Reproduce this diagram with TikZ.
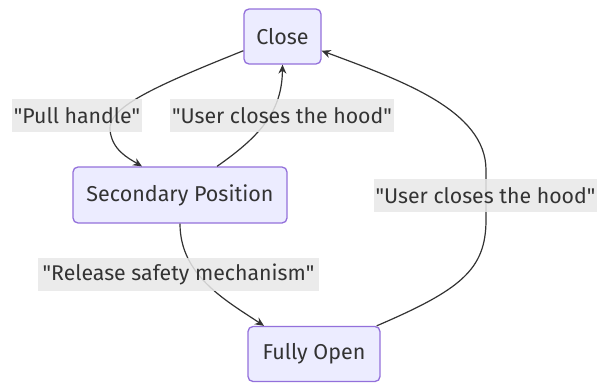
\documentclass[tikz,border=0pt]{standalone}
\usepackage{fontspec}
\setmainfont{Fira Sans}
\usetikzlibrary{arrows.meta}
\definecolor{nodefill}{HTML}{ECECFF}
\definecolor{nodeline}{HTML}{9370DB}
\definecolor{ink}{HTML}{333333}
\definecolor{labelbg}{HTML}{E8E8E8}
\newcommand{\qt}[1]{\textquotedbl#1\textquotedbl}
\tikzset{
  state/.style={draw=nodeline, line width=1.3pt, fill=nodefill, rounded corners=5pt,
    text=ink, font=\fontsize{21.5}{24}\selectfont, inner sep=0pt, anchor=center},
  edgelabel/.style={fill=labelbg, fill opacity=0.85, text opacity=1, text=ink,
    font=\fontsize{21.3}{24}\selectfont, inner sep=0pt, anchor=center},
  flow/.style={draw=ink, line width=1.2pt, -{Stealth[length=9pt,width=8pt]}},
}
\begin{document}
\begin{tikzpicture}[x=1pt,y=-1pt]
\useasboundingbox (0,0) rectangle (597,383);

% states
\node[state, minimum width=77pt, minimum height=55pt] (close) at (282.5,36.5) {Close};
\node[state, minimum width=214pt, minimum height=56pt] (second) at (180,195) {Secondary Position};
\node[state, minimum width=132pt, minimum height=55pt] (open) at (314,354) {Fully Open};

% transitions
\draw[flow] (close.200) .. controls (150,88) and (108,108) .. (110,130)
  .. controls (112,150) and (128,158) .. (second.north -| 142,0);
\draw[flow] ([xshift=37pt]second.north) .. controls (262,135) and (282,110) .. (close.south);
\draw[flow] (second.south) .. controls (180,275) and (225,300) .. ([xshift=-50pt]open.north);
\draw[flow] ([xshift=-4pt]open.north east) .. controls (460,290) and (486,270) .. (486,220)
  -- (486,170) .. controls (486,110) and (400,80) .. (close.340);

% transition labels
\node[edgelabel, minimum width=130pt, minimum height=33pt] (lpull) at (77,115.5) {\qt{Pull handle}};
\node[edgelabel, minimum width=224pt, minimum height=33pt] (lback) at (282,115.5) {\qt{User closes the hood}};
\node[edgelabel, minimum width=281pt, minimum height=33pt] (lrel) at (178.5,274.5) {\qt{Release safety mechanism}};
\node[edgelabel, minimum width=223pt, minimum height=33pt] (lshut) at (485.5,195.5) {\qt{User closes the hood}};
\end{tikzpicture}
\end{document}
